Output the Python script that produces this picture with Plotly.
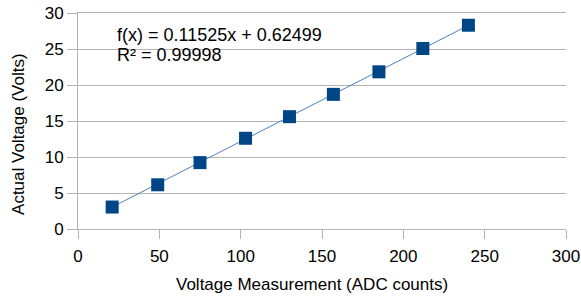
import plotly.graph_objects as go

adc_counts = [21, 49, 75, 103, 130, 157, 185, 212, 240]
actual_volts = [3.05, 6.14, 9.22, 12.6, 15.6, 18.7, 21.83, 25.07, 28.3]
trend_slope = 0.11525
trend_intercept = 0.62499
r_squared = 0.99998

x_ticks = [0, 50, 100, 150, 200, 250, 300]
y_ticks = [0, 5, 10, 15, 20, 25, 30]
x_title = "Voltage Measurement (ADC counts)"
y_title = "Actual Voltage (Volts)"

trend_x = [min(adc_counts), max(adc_counts)]
trend_y = [trend_slope * v + trend_intercept for v in trend_x]

FONT = "Liberation Sans, Arial, sans-serif"
GRID = "#b3b3b3"

fig = go.Figure()
fig.add_trace(go.Scatter(x=trend_x, y=trend_y, mode="lines",
                         line=dict(color="#4f81bd", width=1), hoverinfo="skip"))
fig.add_trace(go.Scatter(x=adc_counts, y=actual_volts, mode="markers",
                         marker=dict(symbol="square", size=13, color="#004586",
                                     line=dict(width=0))))

eq_font = dict(family=FONT, size=18, color="#000000")
fig.add_annotation(x=0, y=0.898, xref="paper", yref="paper", xanchor="left", yanchor="middle",
                   xshift=37, text=f"f(x) = {trend_slope}x + {trend_intercept}",
                   showarrow=False, font=eq_font)
fig.add_annotation(x=0, y=0.806, xref="paper", yref="paper", xanchor="left", yanchor="middle",
                   xshift=37, text=f"R² = {r_squared}",
                   showarrow=False, font=eq_font)

title_font = dict(family=FONT, size=17, color="#000000")
fig.add_annotation(x=0.4795, y=-0.259, xref="paper", yref="paper", xanchor="center", yanchor="middle",
                   text=x_title, showarrow=False, font=title_font)
fig.add_annotation(x=-0.1209, y=0.44, xref="paper", yref="paper", xanchor="center", yanchor="middle",
                   text=y_title, textangle=-90, showarrow=False, font=title_font)

fig.update_layout(
    width=581, height=298,
    margin=dict(l=78, r=15, t=13, b=69),
    paper_bgcolor="white", plot_bgcolor="white",
    showlegend=False,
    font=dict(family=FONT, size=17, color="#000000"),
)
fig.update_xaxes(
    range=[0, 300], tickvals=x_ticks, showgrid=False,
    showline=True, linecolor=GRID, linewidth=1, mirror=True,
    ticks="outside", ticklen=9, tickcolor=GRID, ticklabelstandoff=3,
    zeroline=False, automargin=False,
    tickfont=dict(size=17),
)
fig.update_yaxes(
    range=[0, 30], tickvals=y_ticks, showgrid=True, gridcolor=GRID, gridwidth=1,
    showline=True, linecolor=GRID, linewidth=1,
    ticks="outside", ticklen=10, tickcolor=GRID,
    zeroline=False, automargin=False,
    tickfont=dict(size=17),
)

fig.write_html("out.html", config={"displayModeBar": False},
               post_script="document.body.style.margin='0';document.body.style.overflow='hidden';")
